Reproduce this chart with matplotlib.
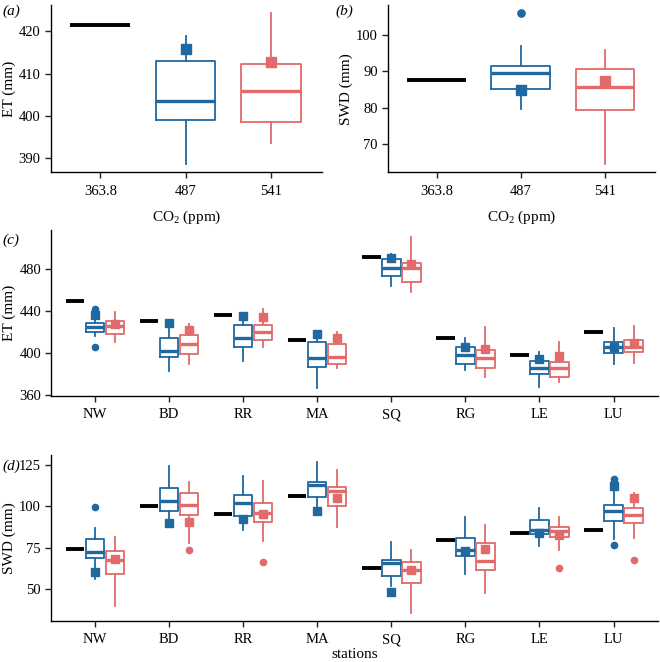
import matplotlib

matplotlib.use('Agg')
import matplotlib.pyplot as plt
import numpy as np

# ---- data ----
co2_labels = ['363.8', '487', '541']
stations = ['NW', 'BD', 'RR', 'MA', 'SQ', 'RG', 'LE', 'LU']

# panel a: ET vs CO2  (baseline, then boxes for 487 and 541)
et_co2_base = 421.5
# whislo, q1, med, q3, whishi
et_co2_boxes = [[388.6, 399.1, 403.6, 413.1, 419.0],
                [393.7, 398.5, 405.9, 412.3, 424.3]]
et_co2_sq = [415.8, 412.7]
et_co2_out = [[], []]

# panel b: SWD vs CO2
swd_co2_base = 87.5
swd_co2_boxes = [[79.6, 85.2, 89.4, 91.4, 96.9],
                 [64.7, 79.5, 85.8, 90.5, 95.9]]
swd_co2_sq = [84.8, 87.3]
swd_co2_out = [[105.9], []]

# panel c: ET per station
et_base = [449.2, 430.3, 436.6, 412.0, 490.8, 414.5, 398.7, 419.6]
et_blue = [[415.8, 420.5, 424.9, 429.0, 432.0],
           [383.3, 396.8, 402.2, 413.9, 427.5],
           [392.7, 405.7, 414.8, 427.1, 432.0],
           [366.9, 386.4, 395.3, 410.7, 416.5],
           [464.0, 473.5, 480.4, 489.6, 494.0],
           [384.2, 389.9, 397.8, 406.0, 414.8],
           [367.5, 380.1, 385.8, 392.1, 401.3],
           [389.3, 400.6, 406.0, 410.7, 424.0]]
et_blue_sq = [436.3, 429.0, 435.0, 417.7, 490.2, 405.4, 394.0, 406.0]
et_blue_out = [[442.3, 406.3], [], [], [], [], [], [], []]
et_red = [[410.1, 418.6, 425.9, 430.0, 439.4],
          [389.6, 399.4, 408.2, 417.0, 427.4],
          [405.4, 412.0, 420.2, 427.1, 441.6],
          [385.8, 389.3, 396.8, 409.1, 419.6],
          [457.7, 467.8, 480.4, 485.5, 510.1],
          [377.6, 385.5, 395.3, 402.8, 424.6],
          [372.9, 377.3, 385.8, 391.8, 410.4],
          [390.9, 401.3, 406.0, 412.3, 426.2]]
et_red_sq = [428.1, 422.4, 434.1, 414.5, 484.2, 403.8, 397.5, 409.5]
et_red_out = [[], [], [], [], [], [], [], []]

# panel d: SWD per station
swd_base = [74.3, 100.2, 95.2, 106.4, 62.6, 79.7, 83.7, 85.5]
swd_blue = [[56.2, 69.0, 72.3, 80.1, 86.9],
            [92.0, 97.4, 103.0, 111.3, 124.1],
            [85.9, 94.0, 102.0, 106.8, 118.5],
            [99.0, 105.4, 112.7, 114.9, 126.5],
            [52.1, 58.0, 66.0, 67.8, 78.3],
            [59.2, 70.2, 73.9, 80.9, 93.6],
            [75.9, 83.5, 85.7, 91.6, 99.2],
            [80.5, 91.4, 97.0, 100.8, 110.0]]
swd_blue_sq = [60.6, 90.1, 92.6, 97.2, 48.3, 72.9, 83.9, 112.5]
swd_blue_out = [[99.4], [], [], [], [], [], [], [116.5, 114.5, 76.9]]
swd_red = [[39.7, 59.2, 67.6, 73.3, 81.5],
           [77.9, 94.6, 101.0, 107.8, 114.7],
           [78.9, 90.5, 95.8, 102.0, 115.5],
           [87.5, 100.2, 109.0, 111.7, 122.1],
           [35.7, 54.0, 61.8, 66.4, 73.7],
           [47.7, 61.8, 67.0, 77.7, 88.5],
           [73.9, 81.7, 85.3, 87.7, 93.6],
           [80.7, 90.1, 94.6, 99.0, 108.0]]
swd_red_sq = [68.2, 90.5, 95.4, 104.8, 61.6, 74.1, 82.7, 105.0]
swd_red_out = [[], [73.9], [66.6], [], [], [], [62.8], [67.6]]

BLUE = '#1F68A0'
RED = '#E26A6A'

plt.rcParams.update({
    'font.family': ['Liberation Serif', 'DejaVu Serif'],
    'font.size': 10.5,
    'mathtext.fontset': 'custom',
    'mathtext.rm': 'Liberation Serif',
    'mathtext.it': 'Liberation Serif:italic',
    'axes.linewidth': 1.0,
    'xtick.major.size': 4,
    'ytick.major.size': 4,
    'xtick.major.width': 1.0,
    'ytick.major.width': 1.0,
    'xtick.major.pad': 5,
})


def make_stats(boxes, outs):
    stats = []
    for b, o in zip(boxes, outs):
        stats.append(dict(whislo=b[0], q1=b[1], med=b[2], q3=b[3],
                          whishi=b[4], fliers=o))
    return stats


def draw_boxes(ax, pos, boxes, sq, outs, color, width, lw=1.3, mlw=2.4, ms=6):
    ax.bxp(make_stats(boxes, outs), positions=pos, widths=width,
           showcaps=False, patch_artist=False,
           boxprops=dict(color=color, linewidth=lw),
           whiskerprops=dict(color=color, linewidth=lw),
           medianprops=dict(color=color, linewidth=mlw),
           flierprops=dict(marker='o', markerfacecolor=color,
                           markeredgecolor=color, markersize=ms * 0.75))
    ax.plot(pos, sq, 's', color=color, markersize=ms, zorder=5)


def style_ax(ax):
    ax.spines['top'].set_visible(False)
    ax.spines['right'].set_visible(False)
    ax.tick_params(labelsize=10.5, color='#222222')


fig = plt.figure(figsize=(6.6, 6.62), dpi=100)
ax_a = fig.add_axes([0.077, 0.740, 0.411, 0.252])
ax_b = fig.add_axes([0.588, 0.740, 0.405, 0.252])
ax_c = fig.add_axes([0.078, 0.402, 0.919, 0.251])
ax_d = fig.add_axes([0.078, 0.062, 0.919, 0.251])

# (a) and (b)
for ax, base, boxes, sq, outs, ylab, ylim, yt in [
        (ax_a, et_co2_base, et_co2_boxes, et_co2_sq, et_co2_out,
         'ET (mm)', (386.7, 426.2), [390, 400, 410, 420]),
        (ax_b, swd_co2_base, swd_co2_boxes, swd_co2_sq, swd_co2_out,
         'SWD (mm)', (62.4, 108.0), [70, 80, 90, 100])]:
    ax.hlines(base, 1 - 0.35, 1 + 0.35, color='black', linewidth=2.8)
    draw_boxes(ax, [2], [boxes[0]], [sq[0]], [outs[0]], BLUE, 0.7, ms=7)
    draw_boxes(ax, [3], [boxes[1]], [sq[1]], [outs[1]], RED, 0.7, ms=7)
    ax.set_xlim(0.42, 3.6)
    ax.set_ylim(*ylim)
    ax.set_yticks(yt)
    ax.set_xticks([1, 2, 3])
    ax.set_xticklabels(co2_labels)
    ax.set_xlabel('CO$_2$ (ppm)', fontsize=11, labelpad=8)
    ax.set_ylabel(ylab, fontsize=11, labelpad=2)
    style_ax(ax)

# (c) and (d)
x = np.arange(1, len(stations) + 1)
off = 0.27
w = 0.25
for ax, base, bb, bsq, bout, rb, rsq, rout, ylab, ylim, yt in [
        (ax_c, et_base, et_blue, et_blue_sq, et_blue_out,
         et_red, et_red_sq, et_red_out, 'ET (mm)', (359.5, 517),
         [360, 400, 440, 480]),
        (ax_d, swd_base, swd_blue, swd_blue_sq, swd_blue_out,
         swd_red, swd_red_sq, swd_red_out, 'SWD (mm)', (31, 131),
         [50, 75, 100, 125])]:
    ax.hlines(base, x - off - w / 2, x - off + w / 2, color='black',
              linewidth=2.8)
    draw_boxes(ax, x, bb, bsq, bout, BLUE, w)
    draw_boxes(ax, x + off, rb, rsq, rout, RED, w)
    ax.set_xlim(0.415, 8.6)
    ax.set_ylim(*ylim)
    ax.set_yticks(yt)
    ax.set_xticks(x)
    ax.set_xticklabels(stations)
    ax.set_ylabel(ylab, fontsize=11, labelpad=2)
    style_ax(ax)

ax_d.set_xlabel('stations', fontsize=11, labelpad=1)

# panel letters
fig.text(0.003, 0.978, '(a)', style='italic', fontsize=11)
fig.text(0.508, 0.978, '(b)', style='italic', fontsize=11)
fig.text(0.003, 0.632, '(c)', style='italic', fontsize=11)
fig.text(0.003, 0.290, '(d)', style='italic', fontsize=11)

fig.savefig('out.png', dpi=100)
